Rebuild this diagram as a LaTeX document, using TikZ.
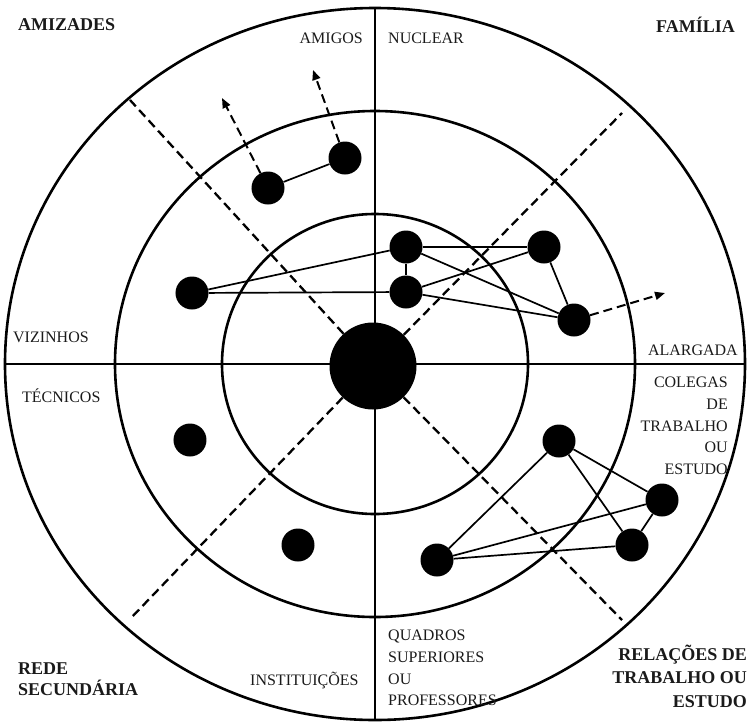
\documentclass[tikz,border=0pt]{standalone}
\usepackage{fontspec}
\setmainfont{Liberation Serif}
\usetikzlibrary{arrows.meta}
\definecolor{mapLine}{HTML}{000000}
\definecolor{mapText}{HTML}{1A1A1A}

\begin{document}
\begin{tikzpicture}[x=1pt, y=1pt,
  ring/.style={draw=mapLine, line width=2.6pt},
  sector/.style={draw=mapLine, line width=2.3pt, dash pattern=on 9pt off 5pt},
  reach/.style={sector, line width=2pt, -{Triangle[length=10pt,width=8pt]}},
  tie/.style={draw=mapLine, line width=1.7pt},
  member/.style={circle, fill=mapLine, inner sep=0pt, minimum size=33pt},
  ego/.style={circle, fill=mapLine, inner sep=0pt, minimum size=87pt},
  zone/.style={font=\fontsize{16}{21.7}\selectfont, text=mapText, inner sep=0pt},
  area/.style={font=\fontsize{18}{23.5}\selectfont\bfseries, text=mapText, inner sep=0pt}]

\useasboundingbox (-375,-360) rectangle (376,364);

% --- rings (outer, middle, inner) ---
\foreach \rx/\ry in {370/356, 260/253, 153/150}
  \draw[ring] (0,0) ellipse [x radius=\rx, y radius=\ry];

% --- axes between the four quadrants ---
\coordinate (axisN) at (0,356);
\coordinate (axisS) at (0,-357);
\coordinate (axisW) at (-370,0);
\coordinate (axisE) at (370,0);
\draw[ring] (axisN) -- (axisS);
\draw[ring] (axisW) -- (axisE);

% --- ego in the centre ---
\node[ego] (ego) at (-2,-2) {};

% --- dashed sector borders ---
\coordinate (secNW) at (-245,264);
\coordinate (secNE) at (247,251);
\coordinate (secSW) at (-245,-255);
\coordinate (secSE) at (247,-256);
\foreach \s in {secNW,secNE,secSW,secSE}
  \draw[sector] (ego) -- (\s);

% --- members of the network ---
\node[member] (amigoA)  at (-107,176) {};
\node[member] (amigoB)  at (-30,206)  {};
\node[member] (vizinho) at (-183,71)  {};
\node[member] (nucA)    at (31,117)   {};
\node[member] (nucB)    at (31,72)    {};
\node[member] (nucC)    at (169,117)  {};
\node[member] (alarg)   at (199,44)   {};
\node[member] (colA)    at (184,-77)  {};
\node[member] (colB)    at (287,-136) {};
\node[member] (colC)    at (257,-181) {};
\node[member] (quadro)  at (62,-196)  {};
\node[member] (tecnico) at (-185,-76) {};
\node[member] (instit)  at (-77,-181) {};

% --- ties ---
\foreach \a/\b in {amigoA/amigoB, vizinho/nucA, vizinho/nucB, nucA/nucB,
                   nucA/nucC, nucA/alarg, nucB/nucC, nucB/alarg, nucC/alarg,
                   colA/colB, colA/colC, colA/quadro, colB/colC, colB/quadro,
                   colC/quadro}
  \draw[tie] (\a) -- (\b);

% --- ties reaching outside the map ---
\coordinate (reachA) at (-153,266);
\coordinate (reachB) at (-62,294);
\coordinate (reachC) at (290,71);
\draw[reach] (amigoA) -- (reachA);
\draw[reach] (amigoB) -- (reachB);
\draw[reach] (alarg) -- (reachC);

% --- quadrant titles ---
\node[area, anchor=west] (amizades) at (-357,339) {AMIZADES};
\node[area, anchor=east] (familia)  at (360,339)  {FAMÍLIA};
\node[area, anchor=west, align=left, font=\fontsize{18}{21.5}\selectfont\bfseries]
  (rede) at (-357,-315) {REDE\\SECUNDÁRIA};
\node[area, anchor=east, align=right] (relacoes) at (372,-312)
  {RELAÇÕES DE\\TRABALHO OU\\ESTUDO};

% --- sector labels ---
\node[zone, anchor=east] (amigos)       at (-12,326)  {AMIGOS};
\node[zone, anchor=west] (nuclear)      at (13,326)   {NUCLEAR};
\node[zone, anchor=west] (vizinhos)     at (-362,27)  {VIZINHOS};
\node[zone, anchor=east] (alargada)     at (363,14)   {ALARGADA};
\node[zone, anchor=west] (tecnicos)     at (-353,-32) {TÉCNICOS};
\node[zone, anchor=west] (instituicoes) at (-125,-316) {INSTITUIÇÕES};
\node[zone, anchor=west, align=left] (quadros) at (13,-304)
  {QUADROS\\SUPERIORES\\OU\\PROFESSORES};
\node[zone, anchor=east, align=right] (colegas) at (353,-62)
  {COLEGAS\\DE\\TRABALHO\\OU\\ESTUDO};

\end{tikzpicture}
\end{document}
